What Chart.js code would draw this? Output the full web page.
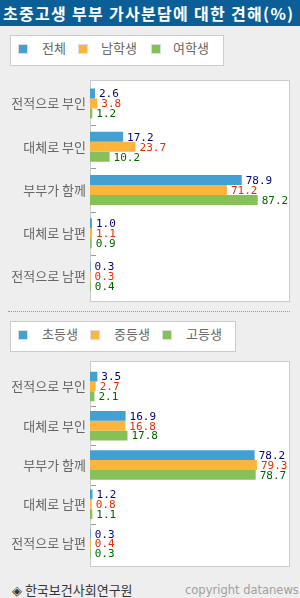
<!DOCTYPE html>
<html>
<head>
<meta charset="utf-8">
<script src="https://cdn.jsdelivr.net/npm/chart.js@4"></script>
<style>
body{margin:0;background:#eeeeee;font-family:"Noto Sans CJK KR",sans-serif;}
#wrap{position:relative;width:300px;height:598px;overflow:hidden;background:#eeeeee;}
#title{position:absolute;left:0;top:0;width:300px;height:26px;background:#0b5f96;color:#fff;font-size:16px;font-weight:bold;line-height:26px;padding-left:3px;box-sizing:border-box;white-space:nowrap;letter-spacing:1.3px;}
.legend{position:absolute;left:10px;height:31px;background:#fff;border:1px solid #cccccc;box-sizing:border-box;}
.legend .sq{position:absolute;top:8px;width:8px;height:8px;border:1px solid #ddd;}
.legend .tx{position:absolute;top:5px;font-size:13px;color:#666;line-height:14px;white-space:nowrap;}
.cv{position:absolute;left:0;width:300px;}
#sep{position:absolute;left:8px;top:311px;width:282px;border-top:1px dotted #999;}
#src{position:absolute;left:12px;top:580px;font-size:13px;color:#333;white-space:nowrap;}
#copy{position:absolute;left:185px;top:583px;font-size:11.5px;color:#a0a0a0;font-family:"DejaVu Sans",sans-serif;white-space:nowrap;}
</style>
</head>
<body>
<div id="wrap">
  <div id="title">초중고생 부부 가사분담에 대한 견해(%)</div>

  <div class="legend" style="top:35px;width:214px;">
    <div class="sq" style="left:7px;background:#45a0d2"></div><div class="tx" style="left:31px">전체</div>
    <div class="sq" style="left:67px;background:#fdb43a"></div><div class="tx" style="left:90px">남학생</div>
    <div class="sq" style="left:140px;background:#85c158"></div><div class="tx" style="left:162px">여학생</div>
  </div>
  <div class="cv" style="top:70px;height:240px;"><canvas id="chart1"></canvas></div>

  <div id="sep"></div>

  <div class="legend" style="top:321px;width:226px;">
    <div class="sq" style="left:7px;background:#45a0d2"></div><div class="tx" style="left:31px">초등생</div>
    <div class="sq" style="left:79px;background:#fdb43a"></div><div class="tx" style="left:103px">중등생</div>
    <div class="sq" style="left:151px;background:#85c158"></div><div class="tx" style="left:175px">고등생</div>
  </div>
  <div class="cv" style="top:355px;height:220px;"><canvas id="chart2"></canvas></div>

  <div id="src">◈ 한국보건사회연구원</div>
  <div id="copy">copyright datanews</div>
</div>
<script>
const categories=["전적으로 부인","대체로 부인","부부가 함께","대체로 남편","전적으로 남편"];

const genderNames=["전체","남학생","여학생"];
const allValues=[2.6,17.2,78.9,1.0,0.3];
const boyValues=[3.8,23.7,71.2,1.1,0.3];
const girlValues=[1.2,10.2,87.2,0.9,0.4];

const schoolNames=["초등생","중등생","고등생"];
const elemValues=[3.5,16.9,78.2,1.2,0.3];
const middleValues=[2.7,16.8,79.3,0.8,0.4];
const highValues=[2.1,17.8,78.7,1.1,0.3];

const barColors=["#45a0d2","#fdb43a","#85c158"];
const textColors=["#000080","#f02800","#006400"];

// white plot box + little dashes between categories
const boxPlugin={
    id:'boxPlugin',
    beforeDraw(chart,args,opts){
        const ctx=chart.ctx, a=chart.chartArea;
        ctx.save();
        ctx.fillStyle='#fff';
        ctx.fillRect(a.left,opts.top,a.right-a.left,opts.bottom-opts.top);
        ctx.strokeStyle='#cccccc';
        ctx.lineWidth=1;
        ctx.strokeRect(a.left+0.5,opts.top+0.5,a.right-a.left-1,opts.bottom-opts.top);
        const y=chart.scales.y;
        ctx.strokeStyle='#999';
        for(let i=1;i<categories.length;i++){
            const py=Math.round((y.getPixelForValue(i-1)+y.getPixelForValue(i))/2)+0.5;
            ctx.beginPath();
            ctx.moveTo(a.left+1,py);
            ctx.lineTo(a.left+6,py);
            ctx.stroke();
        }
        ctx.restore();
    }
};

const valueLabels={
    id:'valueLabels',
    afterDatasetsDraw(chart){
        const ctx=chart.ctx;
        ctx.save();
        ctx.font='11px "DejaVu Sans Mono", monospace';
        ctx.textBaseline='middle';
        ctx.textAlign='left';
        chart.data.datasets.forEach((ds,di)=>{
            ctx.fillStyle=textColors[di];
            chart.getDatasetMeta(di).data.forEach((bar,i)=>{
                ctx.fillText(ds.data[i].toFixed(1),bar.x+4,bar.y+1);
            });
        });
        ctx.restore();
    }
};

function makeChart(id,names,series,xMax,catPct,pad,box){
    return new Chart(document.getElementById(id),{
        type:'bar',
        data:{
            labels:categories,
            datasets:series.map((d,i)=>({
                label:names[i],
                data:d,
                backgroundColor:barColors[i],
                borderWidth:0,
                barPercentage:1,
                categoryPercentage:catPct
            }))
        },
        options:{
            indexAxis:'y',
            responsive:true,
            maintainAspectRatio:false,
            animation:false,
            layout:{padding:{left:0,right:10,top:pad[0],bottom:pad[1]}},
            plugins:{
                legend:{display:false},
                tooltip:{enabled:false},
                boxPlugin:box
            },
            scales:{
                x:{display:false,min:0,max:xMax},
                y:{
                    grid:{display:false,drawTicks:false},
                    border:{display:false},
                    ticks:{color:'#666',padding:4,font:{family:'"Noto Sans CJK KR"',size:13}},
                    afterFit(scale){scale.width=90;}
                }
            }
        },
        plugins:[boxPlugin,valueLabels]
    });
}

makeChart('chart1',genderNames,[allValues,boyValues,girlValues],104,0.69,[4.5,10.5],{top:10,bottom:231});
makeChart('chart2',schoolNames,[elemValues,middleValues,highValues],95,0.75,[7,8],{top:6,bottom:211});
</script>
</body>
</html>
